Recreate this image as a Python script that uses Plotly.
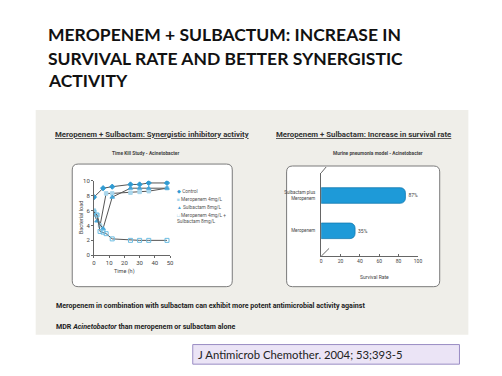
import plotly.graph_objects as go

W, H = 502, 376
OFF = 8  # the page body has an 8px margin
FW, FH = W - OFF, H - OFF
def fx(x): return (x - OFF) / FW
def fy(y): return 1 - (y - OFF) / FH

# ---------------- data ----------------
series_names = ["Control", "Meropenem 4mg/L", "Sulbactam 8mg/L", "Meropenem 4mg/L +<br>Sulbactam 8mg/L"]
control_t = [0, 6, 12, 24, 30, 36, 48]
control_y = [7.8, 9.0, 9.2, 9.5, 9.5, 9.7, 9.7]
mero_t = [0, 2, 4, 8, 12, 24, 30, 36, 48]
mero_y = [6.0, 5.4, 4.0, 8.3, 8.3, 8.4, 8.5, 8.6, 9.0]
sulb_t = [0, 2, 6, 12, 24, 30, 36, 48]
sulb_y = [5.6, 4.6, 3.6, 7.8, 9.0, 9.0, 9.0, 9.0]
combo_t = [0, 2, 4, 6, 8, 12, 24, 30, 36, 48]
combo_y = [5.8, 5.4, 3.2, 3.1, 2.9, 2.2, 2.0, 2.0, 2.0, 2.0]

time_ticks = [0, 10, 20, 30, 40, 50]
load_ticks = [0, 2, 4, 6, 8, 10]

bar_categories = ["Meropenem", "Sulbactam plus<br>Meropenem"]
survival_rate = [35, 87]
survival_labels = ["35%", "87%"]
survival_ticks = [0, 20, 40, 60, 80, 100]

NARROW = "Roboto, Liberation Sans, sans-serif"
TITLE_FONT = "Lato, Open Sans, sans-serif"

fig = go.Figure()

line_color = "#555555"
marker_specs = [
    dict(symbol="diamond", color="#2f9bd3", size=4),
    dict(symbol="square", color="#a9d6ec", size=3.5),
    dict(symbol="triangle-up", color="#45a6d9", size=4),
    dict(symbol="square-open", color="#6cbde3", size=4),
]
for name, t, y, ms in zip(series_names, [control_t, mero_t, sulb_t, combo_t],
                          [control_y, mero_y, sulb_y, combo_y], marker_specs):
    fig.add_trace(go.Scatter(
        x=t, y=y, mode="lines+markers", name=name, showlegend=False,
        line=dict(color=line_color, width=1),
        marker=dict(symbol=ms["symbol"], color=ms["color"], size=ms["size"],
                    line=dict(color=ms["color"], width=1)),
        xaxis="x", yaxis="y"))

fig.add_trace(go.Bar(
    x=survival_rate, y=bar_categories, orientation="h", width=0.44,
    marker=dict(color="#1e9ad8", line=dict(color="#137ab0", width=0.8), cornerradius=5),
    text=survival_labels, textposition="outside", cliponaxis=False,
    textfont=dict(size=5, color="#444", family=NARROW),
    showlegend=False, xaxis="x2", yaxis="y2"))

small = dict(family=NARROW, size=6, color="#444")

fig.update_layout(
    width=FW, height=FH, margin=dict(l=0, r=0, t=0, b=0),
    paper_bgcolor="white", plot_bgcolor="rgba(0,0,0,0)",
    xaxis=dict(domain=[fx(93), fx(170)], range=[0, 50], tickvals=time_ticks,
               showline=True, linecolor="#666", linewidth=1, ticks="outside",
               ticklen=2, tickcolor="#666", showgrid=False, zeroline=False,
               tickfont=small, anchor="y"),
    yaxis=dict(domain=[fy(256), fy(180)], range=[0, 10], tickvals=load_ticks,
               showline=True, linecolor="#666", linewidth=1, ticks="outside",
               ticklen=2, tickcolor="#666", showgrid=False, zeroline=False,
               tickfont=small, anchor="x"),
    xaxis2=dict(domain=[fx(323), fx(421)], range=[0, 100], tickvals=survival_ticks,
                showline=True, linecolor="#666", linewidth=1, ticks="inside",
                ticklen=2, tickcolor="#666", showgrid=False, zeroline=False,
                tickfont=dict(family=NARROW, size=5, color="#444"), anchor="y2"),
    yaxis2=dict(domain=[fy(257), fy(172)], range=[-0.72, 1.64], type="category",
                showline=True, linecolor="#666", linewidth=1, ticks="",
                showgrid=False, zeroline=False, ticklabelstandoff=4,
                tickfont=dict(family=NARROW, size=4.5, color="#444"), anchor="x2"),
    bargap=0.5,
)

shapes = []
# panel
shapes.append(dict(type="rect", xref="paper", yref="paper", layer="below",
                   x0=fx(34), x1=fx(472), y0=fy(337), y1=fy(108),
                   fillcolor="#efeee9", line=dict(width=0)))

def rounded(x0, y0, x1, y1, r):
    X0, X1 = fx(x0), fx(x1)
    Y0, Y1 = fy(y0), fy(y1)
    rx, ry = r / FW, r / FH
    return (f"M {X0+rx} {Y0} L {X1-rx} {Y0} Q {X1} {Y0} {X1} {Y0-ry} "
            f"L {X1} {Y1+ry} Q {X1} {Y1} {X1-rx} {Y1} L {X0+rx} {Y1} "
            f"Q {X0} {Y1} {X0} {Y1+ry} L {X0} {Y0-ry} Q {X0} {Y0} {X0+rx} {Y0} Z")

shapes.append(dict(type="path", xref="paper", yref="paper", layer="below",
                   path=rounded(71, 163, 233, 288, 6), fillcolor="white",
                   line=dict(color="#7a7a7a", width=1)))
shapes.append(dict(type="path", xref="paper", yref="paper", layer="below",
                   path=rounded(288, 165, 443, 288, 6), fillcolor="white",
                   line=dict(color="#7a7a7a", width=1)))
# 3D floor slant of bar chart
shapes.append(dict(type="line", xref="paper", yref="paper",
                   x0=fx(323), y0=fy(257), x1=fx(331), y1=fy(249),
                   line=dict(color="#666", width=1)))
shapes.append(dict(type="line", xref="paper", yref="paper",
                   x0=fx(323), y0=fy(172), x1=fx(328), y1=fy(166),
                   line=dict(color="#666", width=1)))
# citation box
shapes.append(dict(type="rect", xref="paper", yref="paper",
                   x0=fx(193), x1=fx(463), y0=fy(367), y1=fy(347),
                   fillcolor="#ebe4f6", line=dict(color="#9a8cc4", width=1)))

annotations = []
def ann(text, x, y, size, family, color="#111", xanchor="left", yanchor="middle", angle=0):
    annotations.append(dict(text=text, x=fx(x), y=fy(y), xref="paper", yref="paper",
                            showarrow=False, xanchor=xanchor, yanchor=yanchor,
                            textangle=angle, align="left",
                            font=dict(size=size, family=family, color=color)))

title_lines = ["MEROPENEM + SULBACTUM: INCREASE IN",
               "SURVIVAL RATE AND BETTER SYNERGISTIC",
               "ACTIVITY"]
for line, yy in zip(title_lines, [31, 55, 78]):
    ann(f"<b>{line}</b>", 44, yy, 17.5, TITLE_FONT, "#111")

ann("<b><u>Meropenem + Sulbactam: Synergistic inhibitory activity</u></b>", 152, 133, 7.8,
    NARROW, "#333", xanchor="center")
ann("<b>Time Kill Study - Acinetobacter</b>", 145, 152, 4.8, NARROW, "#444", xanchor="center")
ann("<b><u>Meropenem + Sulbactam: Increase in survival rate</u></b>", 366, 133, 7.8,
    NARROW, "#333", xanchor="center")
ann("<b>Murine pneumonia model - Acinetobacter</b>", 381, 152, 4.8, NARROW, "#444", xanchor="center")

ann("Bacterial load", 80, 218, 5.5, NARROW, "#444", xanchor="center", angle=-90)
ann("Time (h)", 124, 273, 5.5, NARROW, "#444", xanchor="center")
ann("Survival Rate", 377, 278, 5, NARROW, "#444", xanchor="center")

legend_colors = [m["color"] for m in marker_specs]
legend_syms = ["◆", "■", "▲", "□"]
for name, c, s, yy in zip(series_names, legend_colors, legend_syms, [191, 199, 207, 218]):
    ann(f"<span style='color:{c}'>{s}</span> {name}", 175, yy, 4.8, NARROW, "#555")

ann("<b>Meropenem in combination with sulbactam can exhibit more potent antimicrobial activity against</b>",
    53, 307, 7.1, NARROW, "#222")
ann("<b>MDR <i>Acinetobactor</i> than meropenem or sulbactam alone</b>", 53, 329, 7.1, NARROW, "#222")

ann("J Antimicrob Chemother. 2004; 53;393-5", 196, 357, 11.3, TITLE_FONT, "#222")

fig.update_layout(shapes=shapes, annotations=annotations)
fig.write_html("out.html")
